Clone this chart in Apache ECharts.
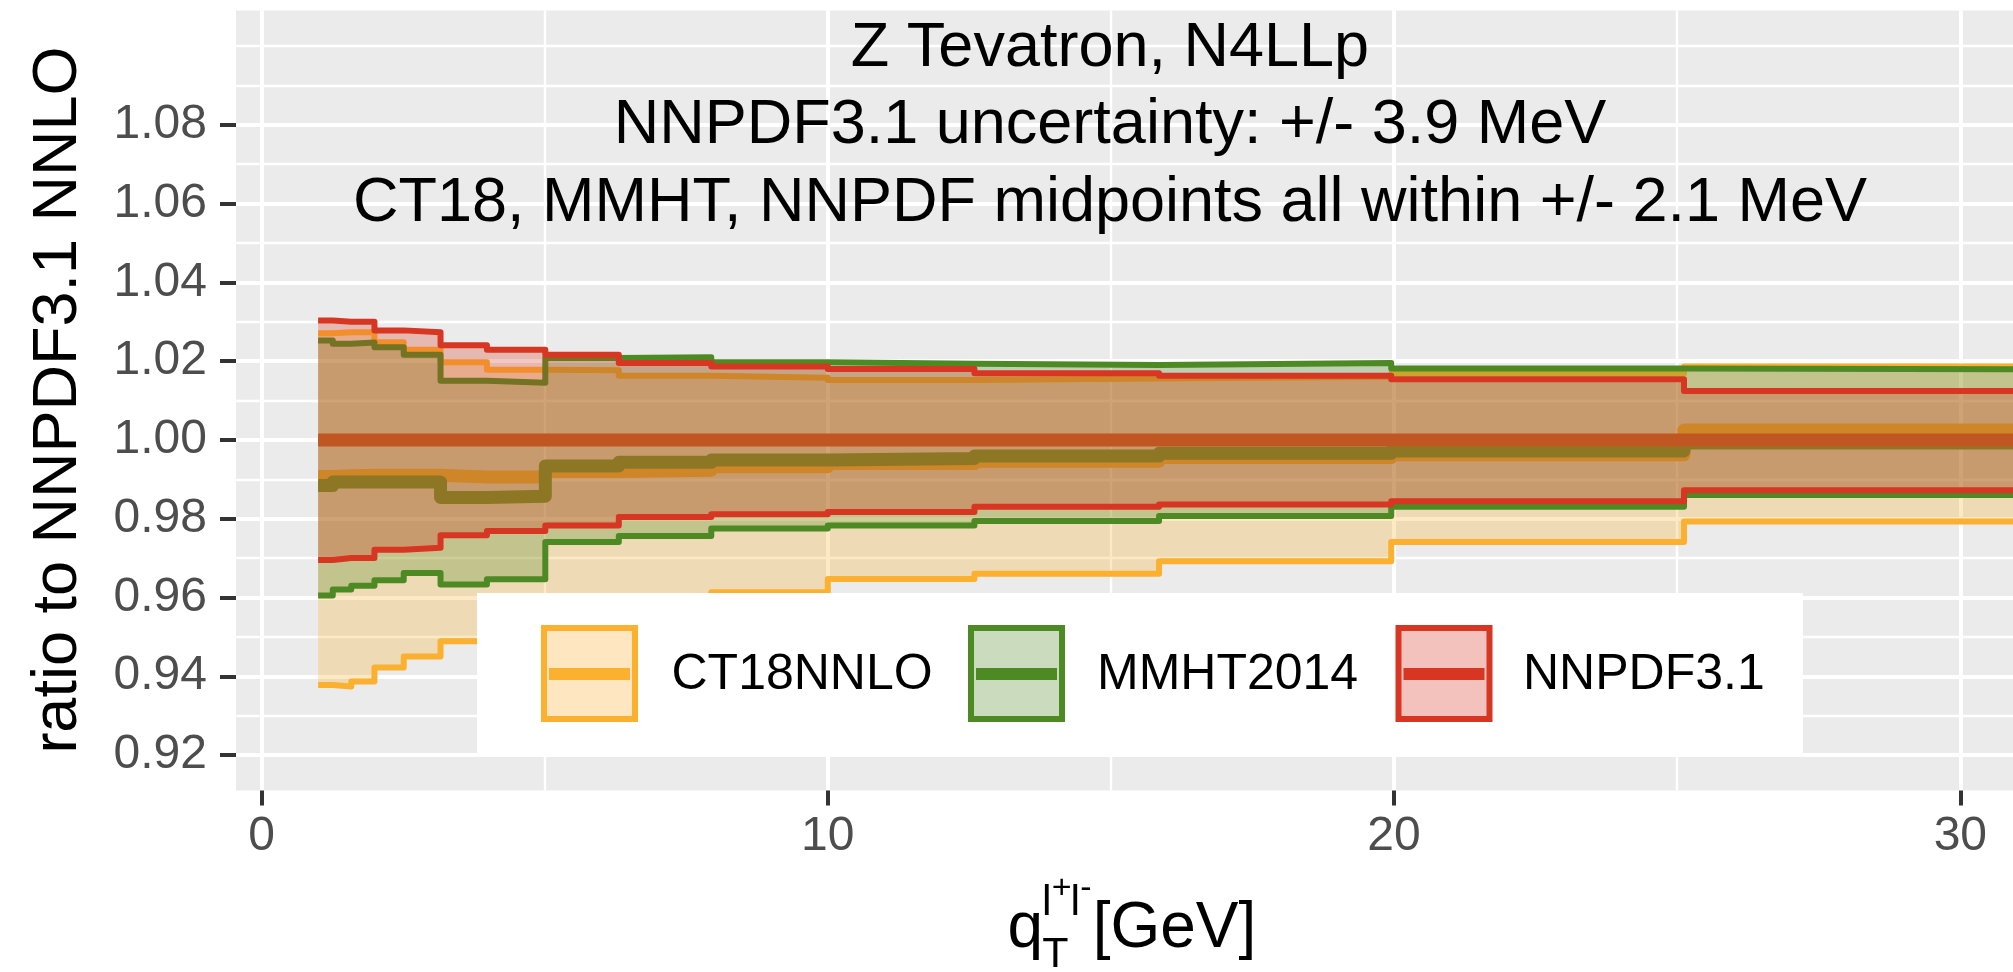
<!DOCTYPE html>
<html>
<head>
<meta charset="utf-8">
<title>Z Tevatron, N4LLp</title>
<script src="https://cdn.jsdelivr.net/npm/echarts@6/dist/echarts.min.js"></script>
<style>
  html, body { margin: 0; padding: 0; background: #ffffff; }
  #chart { width: 2013px; height: 972px; }
</style>
</head>
<body>
<div id="chart"></div>
<script>
// q_T bin edges (GeV), 10 bins per decade
var binEdges = [1, 1.259, 1.585, 1.995, 2.512, 3.162, 3.981, 5.012, 6.310, 7.943, 10, 12.59, 15.85, 19.95, 25.12, 31.62];

// ratio to NNPDF3.1 NNLO, one value per bin
var ct18Lo  = [0.9378, 0.9374, 0.9387, 0.9422, 0.9450, 0.9489, 0.9520, 0.9560, 0.9590, 0.9613, 0.9647, 0.9660, 0.9692, 0.9741, 0.9793];
var ct18Mid = [0.9907, 0.9909, 0.9910, 0.9910, 0.9910, 0.9906, 0.9906, 0.9920, 0.9923, 0.9932, 0.9940, 0.9946, 0.9955, 0.9962, 1.0025];
var ct18Hi  = [1.0271, 1.0273, 1.0273, 1.0248, 1.0229, 1.0197, 1.0178, 1.0177, 1.0163, 1.0158, 1.0152, 1.0156, 1.0160, 1.0169, 1.0186];

var mmhtLo  = [0.9605, 0.9620, 0.9630, 0.9644, 0.9662, 0.9633, 0.9646, 0.9741, 0.9756, 0.9775, 0.9783, 0.9794, 0.9807, 0.9830, 0.9860];
var mmhtMid = [0.9884, 0.9893, 0.9893, 0.9893, 0.9893, 0.9854, 0.9857, 0.9934, 0.9943, 0.9949, 0.9953, 0.9959, 0.9966, 0.9972, 0.9992];
var mmhtHi  = [1.0252, 1.0244, 1.0247, 1.0235, 1.0216, 1.0150, 1.0145, 1.0208, 1.0210, 1.0197, 1.0193, 1.0190, 1.0195, 1.0181, 1.0179];

var nnpdfLo  = [0.9695, 0.9700, 0.9700, 0.9721, 0.9726, 0.9758, 0.9769, 0.9783, 0.9804, 0.9811, 0.9817, 0.9830, 0.9836, 0.9844, 0.9872];
var nnpdfMid = [1.0000, 1.0000, 1.0000, 1.0000, 1.0000, 1.0000, 1.0000, 1.0000, 1.0000, 1.0000, 1.0000, 1.0000, 1.0000, 1.0000, 1.0000];
var nnpdfHi  = [1.0303, 1.0300, 1.0300, 1.0278, 1.0273, 1.0240, 1.0229, 1.0216, 1.0195, 1.0186, 1.0180, 1.0169, 1.0163, 1.0154, 1.0124];

var yMajor = [0.92, 0.94, 0.96, 0.98, 1.00, 1.02, 1.04, 1.06, 1.08];
var yMinor = [0.93, 0.95, 0.97, 0.99, 1.01, 1.03, 1.05, 1.07, 1.09, 1.10];
var xMajor = [0, 10, 20, 30];
var xMinor = [5, 15, 25];

var setNames = ['CT18NNLO', 'MMHT2014', 'NNPDF3.1'];
var titleLines = ['Z Tevatron, N4LLp', 'NNPDF3.1 uncertainty: +/- 3.9 MeV', 'CT18, MMHT, NNPDF midpoints all within +/- 2.1 MeV'];

var colCT = '#FCB030', colMM = '#4E8A24', colNN = '#D73622';
var fillCT = 'rgba(252,176,48,0.28)', fillMM = 'rgba(78,138,36,0.28)', fillNN = 'rgba(215,54,34,0.28)';
var font = 'Liberation Sans';

// bin values -> points for an 'end' step line
function steps(vals) {
  var pts = [];
  for (var i = 0; i < vals.length; i++) pts.push([binEdges[i], vals[i]]);
  pts.push([binEdges[vals.length], vals[vals.length - 1]]);
  return pts;
}

function stepLine(vals, color, width, z) {
  return {
    type: 'line', data: steps(vals), step: 'end', symbol: 'none', z: z, silent: true,
    lineStyle: { color: color, width: width, cap: 'butt', join: 'round' }
  };
}

// filled band between lo and hi, one polygon through the axis scales
function band(lo, hi, fill, z) {
  return {
    type: 'custom', z: z, clip: true, silent: true,
    data: [[binEdges[0], lo[0]]],
    encode: { x: 0, y: 1 },
    renderItem: function(params, api) {
      var pts = [];
      for (var i = 0; i < hi.length; i++) {
        pts.push(api.coord([binEdges[i], hi[i]]));
        pts.push(api.coord([binEdges[i + 1], hi[i]]));
      }
      for (var j = lo.length - 1; j >= 0; j--) {
        pts.push(api.coord([binEdges[j + 1], lo[j]]));
        pts.push(api.coord([binEdges[j], lo[j]]));
      }
      return { type: 'polygon', shape: { points: pts }, style: { fill: fill } };
    }
  };
}

var series = [
  // central lines sit under all bands
  stepLine(ct18Mid, colCT, 13, 1),
  stepLine(mmhtMid, colMM, 13, 1),
  stepLine(nnpdfMid, colNN, 13, 1),
  band(ct18Lo, ct18Hi, fillCT, 2),
  stepLine(ct18Lo, colCT, 6, 2),
  stepLine(ct18Hi, colCT, 6, 2),
  band(mmhtLo, mmhtHi, fillMM, 3),
  stepLine(mmhtLo, colMM, 6, 3),
  stepLine(mmhtHi, colMM, 6, 3),
  band(nnpdfLo, nnpdfHi, fillNN, 4),
  stepLine(nnpdfLo, colNN, 6, 4),
  stepLine(nnpdfHi, colNN, 6, 4)
];

// legend drawn as graphic elements
var legendEls = [{ type: 'rect', shape: { x: 477, y: 593, width: 1326, height: 160 }, style: { fill: '#ffffff' }, z: 100 }];
var keyLeft = [541, 968, 1395.5];
var textLeft = [671.5, 1097, 1523];
var keyCols = [colCT, colMM, colNN];
var keyFills = ['rgba(252,176,48,0.3)', 'rgba(78,138,36,0.3)', 'rgba(215,54,34,0.3)'];
for (var k = 0; k < 3; k++) {
  legendEls.push({ type: 'rect', z: 101, shape: { x: keyLeft[k] + 3, y: 628, width: 91, height: 91 },
    style: { fill: keyFills[k], stroke: keyCols[k], lineWidth: 6 } });
  legendEls.push({ type: 'line', z: 102, shape: { x1: keyLeft[k] + 8, y1: 674, x2: keyLeft[k] + 89, y2: 674 },
    style: { stroke: keyCols[k], lineWidth: 12 } });
  legendEls.push({ type: 'text', z: 102, x: textLeft[k], y: 675,
    style: { text: setNames[k], fill: '#000', fontSize: 50, fontFamily: font,
      textAlign: 'left', textVerticalAlign: 'middle', align: 'left', verticalAlign: 'middle' } });
}

function label(txt, x, y, size, align) {
  return { type: 'text', z: 50, x: x, y: y,
    style: { text: txt, fill: '#000', fontSize: size, fontFamily: font,
      textAlign: align, textVerticalAlign: 'middle', align: align, verticalAlign: 'middle' } };
}

var texts = [
  // annotation inside the panel
  { type: 'text', z: 50, x: 1110, y: 125.9,
    style: { text: titleLines.join('\n'), fill: '#000', fontSize: 63, fontFamily: font, lineHeight: 77.6,
      textAlign: 'center', textVerticalAlign: 'middle', align: 'center', verticalAlign: 'middle' } },
  // y axis title
  { type: 'text', z: 50, x: 59, y: 400, rotation: Math.PI / 2,
    style: { text: 'ratio to NNPDF3.1 NNLO', fill: '#000', fontSize: 63, fontFamily: font,
      textAlign: 'center', textVerticalAlign: 'middle', align: 'center', verticalAlign: 'middle' } },
  // x axis title: q_T^{l+ l-} [GeV]
  label('q', 1007.5, 929.5, 64, 'left'),
  label('T', 1042.3, 955.1, 43, 'left'),
  label('l', 1042, 903.4, 43, 'left'),
  label('+', 1061.7, 889, 34, 'center'),
  label('l', 1070.4, 903.4, 43, 'left'),
  label('-', 1085.8, 888.6, 34, 'center'),
  label('[GeV]', 1092.7, 929.5, 64, 'left')
];

var chart = echarts.init(document.getElementById('chart'), null, { renderer: 'canvas' });
chart.setOption({
  animation: false,
  backgroundColor: '#ffffff',
  grid: { left: 236, right: 0, top: 10.5, bottom: 181.5, show: true, backgroundColor: '#EBEBEB', borderWidth: 0 },
  xAxis: [{
    type: 'value', min: -0.45, max: 30.93,
    axisLine: { show: false, onZero: false },
    axisTick: { show: true, length: 15, customValues: xMajor, lineStyle: { color: '#333333', width: 4 } },
    axisLabel: { customValues: xMajor, fontSize: 48, color: '#4D4D4D', fontFamily: font, margin: 22 },
    splitLine: { show: true, lineStyle: { color: '#ffffff', width: 4 } }
  }, {
    type: 'value', min: -0.45, max: 30.93, position: 'bottom',
    axisLine: { show: false, onZero: false },
    axisTick: { show: false, customValues: xMinor },
    axisLabel: { show: false },
    splitLine: { show: true, lineStyle: { color: '#ffffff', width: 2.4 } }
  }],
  yAxis: [{
    type: 'value', min: 0.911, max: 1.109,
    axisLine: { show: false, onZero: false },
    axisTick: { show: true, length: 16, customValues: yMajor, lineStyle: { color: '#333333', width: 4 } },
    axisLabel: { customValues: yMajor, fontSize: 48, color: '#4D4D4D', fontFamily: font, margin: 29,
      formatter: function(v) { return v.toFixed(2); } },
    splitLine: { show: true, lineStyle: { color: '#ffffff', width: 4 } }
  }, {
    type: 'value', min: 0.911, max: 1.109, position: 'left',
    axisLine: { show: false, onZero: false },
    axisTick: { show: false, customValues: yMinor },
    axisLabel: { show: false },
    splitLine: { show: true, lineStyle: { color: '#ffffff', width: 2.4 } }
  }],
  series: series,
  graphic: { elements: texts.concat(legendEls) }
});
</script>
</body>
</html>
